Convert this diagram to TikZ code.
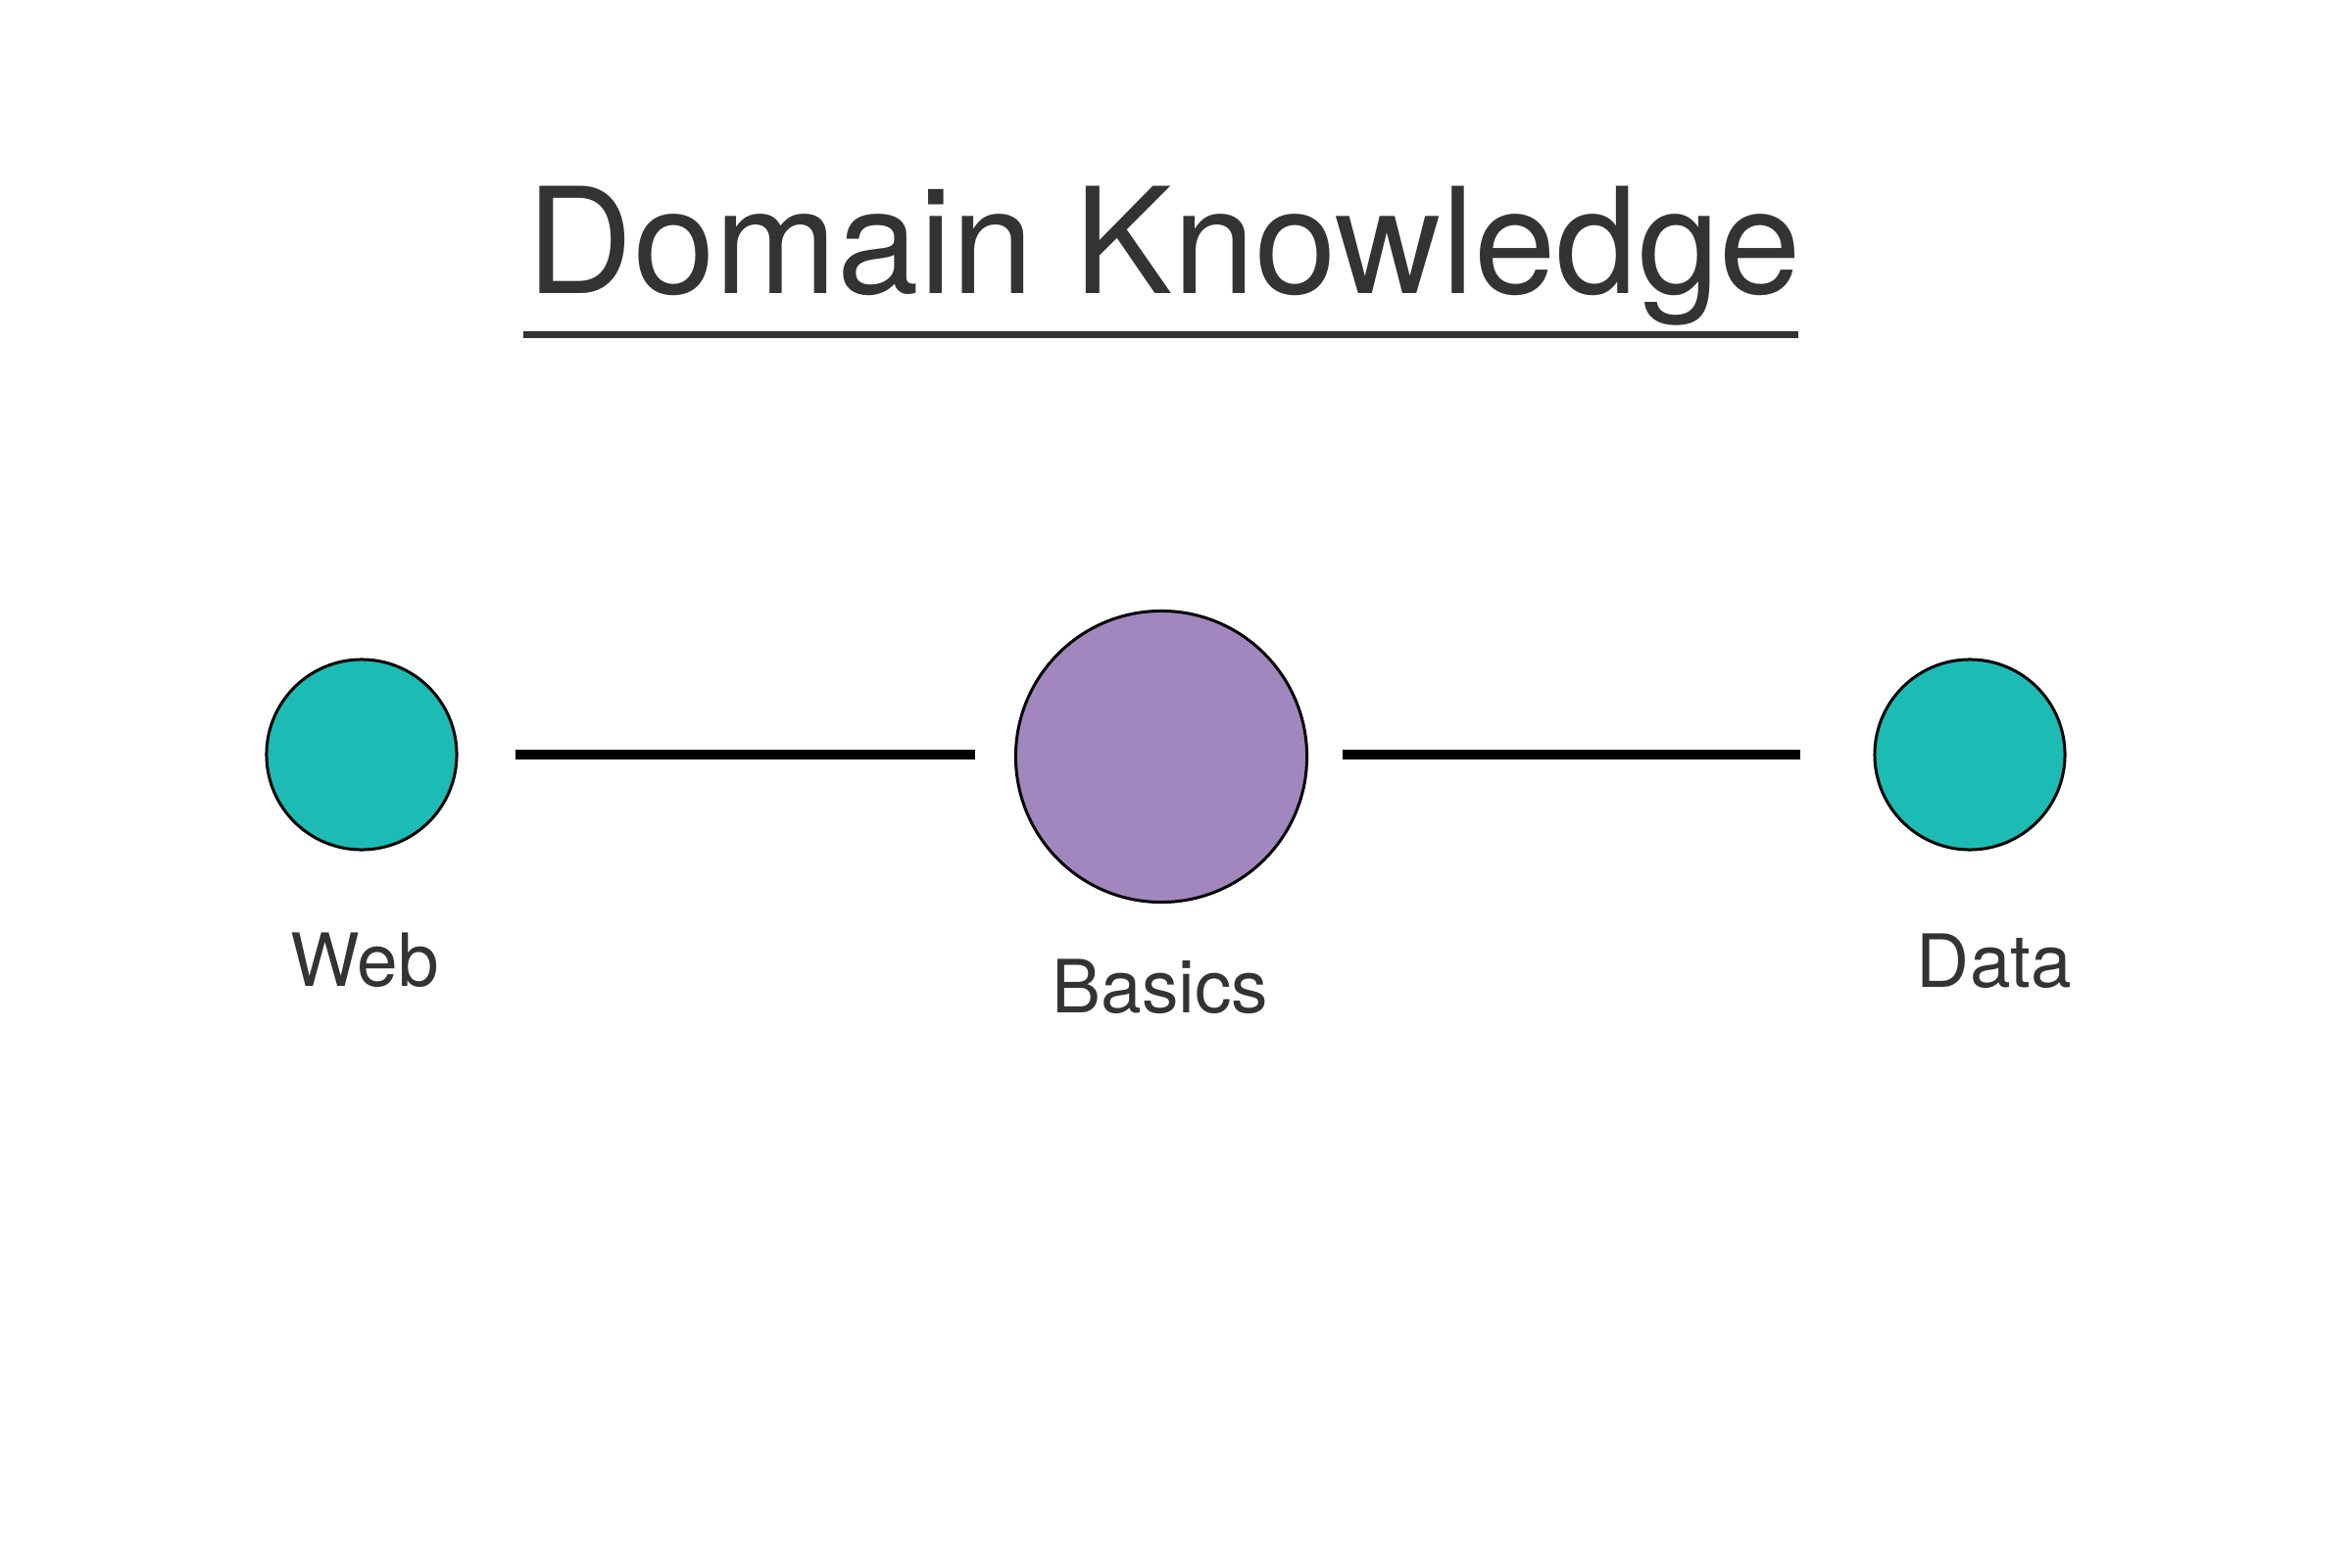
\documentclass[tikz,border=0pt]{standalone}
\usepackage{fontspec}
\setmainfont{TeX Gyre Heros}
\usepackage{tikz}
\usetikzlibrary{positioning}
\definecolor{topicteal}{HTML}{1CBCB4}
\definecolor{basicpurple}{HTML}{A287BE}
\definecolor{textgray}{HTML}{333333}

\begin{document}
\begin{tikzpicture}[x=0.01cm, y=-0.01cm,
    topic/.style={circle, draw=black, line width=0.85pt, inner sep=0pt},
    label text/.style={anchor=base, text=textgray, font=\fontsize{21.3}{24}\selectfont},
    link/.style={line width=2.85pt, black}]
    \useasboundingbox (0,0) rectangle (2400,1600);
    % title
    \node[anchor=base, text=textgray, font=\fontsize{42.7}{48}\selectfont] (title) at (1188,299) {Domain Knowledge};
    \draw[textgray, line width=2pt] (534,341.5) -- (1835,341.5);
    % circles
    \node[topic, fill=topicteal, minimum size=1.94cm] (web) at (369,770) {};
    \node[topic, fill=basicpurple, minimum size=2.97cm] (basics) at (1185,772) {};
    \node[topic, fill=topicteal, minimum size=1.94cm] (data) at (2010,770) {};
    % labels
    \node[label text] (weblabel) at (372,1006) {Web};
    \node[label text] (basicslabel) at (1184,1033) {Basics};
    \node[label text] (datalabel) at (2035,1007) {Data};
    % links
    \draw[link, shorten <=0.58cm, shorten >=0.40cm] (web.east) -- (basics.west |- web.east);
    \draw[link, shorten <=0.35cm, shorten >=0.74cm] (basics.east |- data.west) -- (data.west);
\end{tikzpicture}
\end{document}
